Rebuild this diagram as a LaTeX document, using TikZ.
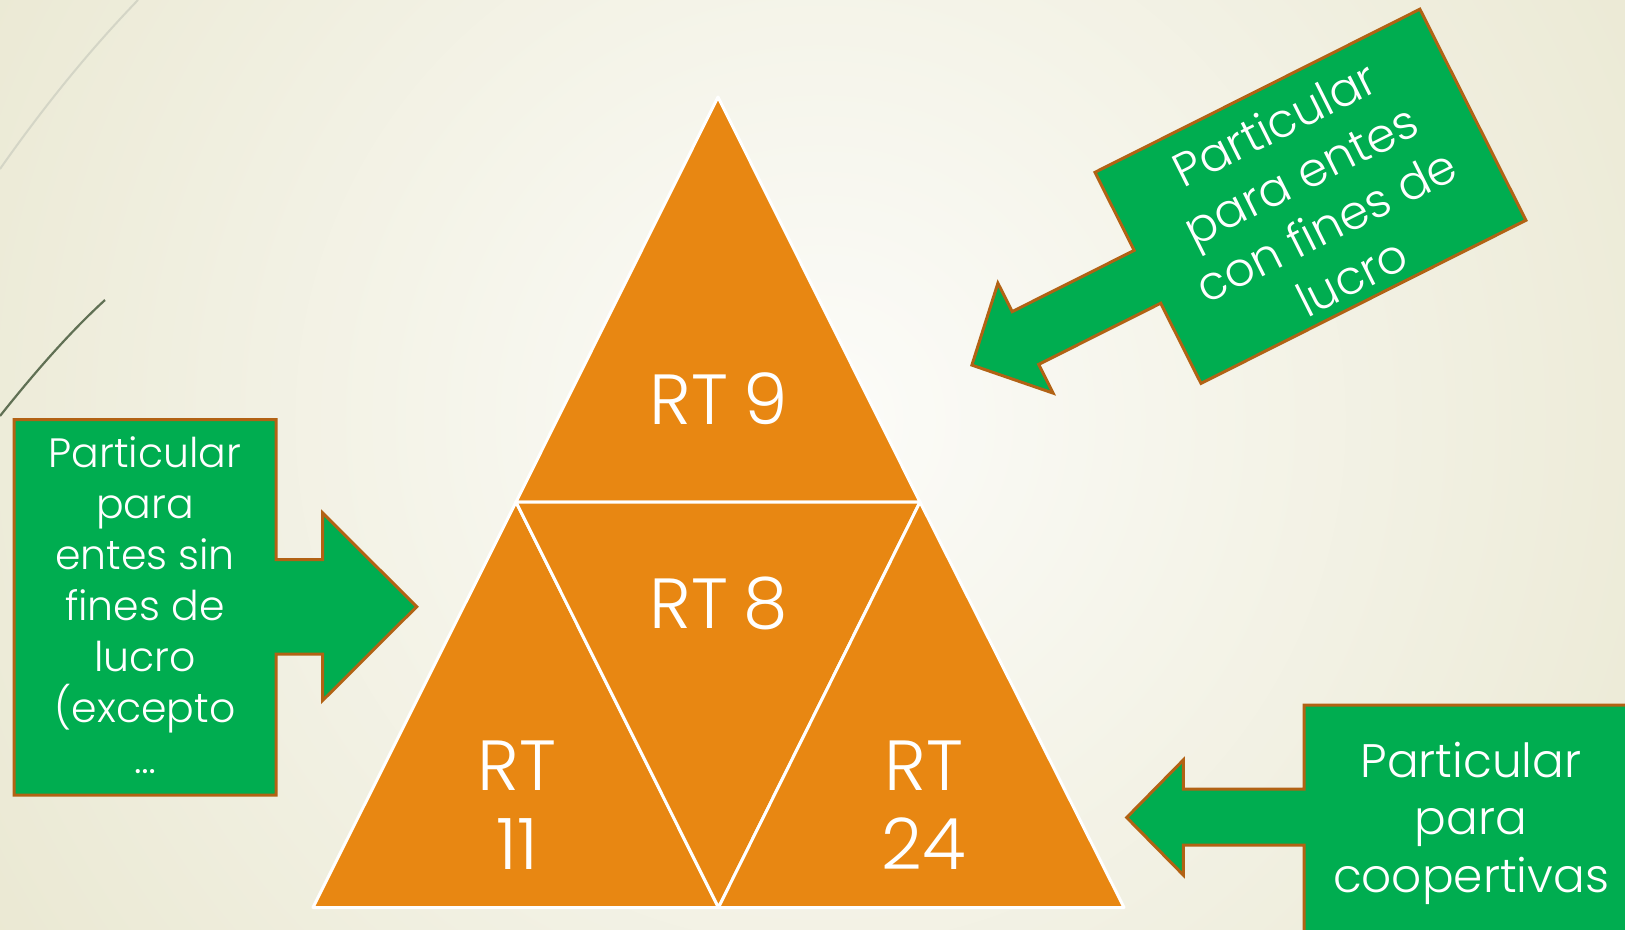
\documentclass[tikz,border=0pt]{standalone}
\usepackage{fontspec}
\setmainfont{Poppins Light}
\definecolor{cgreen}{RGB}{0,173,80}
\definecolor{cedge}{RGB}{178,98,20}
\definecolor{corange}{RGB}{232,135,18}
\definecolor{bgin}{RGB}{252,252,249}
\definecolor{bgout}{RGB}{233,231,208}
\definecolor{lineA}{RGB}{212,213,198}
\definecolor{lineB}{RGB}{96,112,84}
\begin{document}
\begin{tikzpicture}[x=1pt,y=-1pt,
  callout/.style={fill=cgreen,draw=cedge,line width=3pt,line join=miter},
  tri/.style={fill=corange,draw=white,line width=3pt,line join=round},
  rtlabel/.style={text=white,font=\fontsize{71}{79}\selectfont,align=center,inner sep=0pt},
  ctext/.style={text=white,align=center,inner sep=0pt}]
\useasboundingbox (0,0) rectangle (1625,929);
\begin{scope}
\clip (0,0) rectangle (1625,929);
\fill[bgout] (0,0) rectangle (1625,929);
\shade[inner color=bgin,outer color=bgout] (820,420) circle (1050);
% decorative lines
\draw[lineA,line width=2pt] (0,169) .. controls (40,112) and (85,55) .. (138,0);
\draw[lineB,line width=2.2pt] (0,416) .. controls (35,372) and (70,332) .. (105,300);
% pyramid
\coordinate (A) at (718,97);
\coordinate (ML) at (516,502);
\coordinate (MR) at (920,502);
\coordinate (BL) at (313,907.5);
\coordinate (BM) at (718.5,907.5);
\coordinate (BR) at (1124,907.5);
\draw[tri] (A) -- (ML) -- (MR) -- cycle;
\draw[tri] (ML) -- (BL) -- (BM) -- cycle;
\draw[tri] (ML) -- (MR) -- (BM) -- cycle;
\draw[tri] (MR) -- (BM) -- (BR) -- cycle;
\node[rtlabel] (rt9) at (719,399) {RT\hspace{-4pt} 9};
\node[rtlabel] (rt8) at (719,603) {RT\hspace{-4pt} 8};
\node[rtlabel] (rt11) at (517,805) {RT\\11};
\node[rtlabel] (rt24) at (924,805) {RT\\24};
% left callout
\draw[callout] (14,419.5) -- (276,419.5) -- (276,559.5) -- (322.7,559.5) -- (322.7,513) -- (416.7,606.7) -- (322.7,700.4) -- (322.7,654) -- (276,654) -- (276,795) -- (14,795) -- cycle;
\node[ctext,font=\fontsize{41}{51}\selectfont] (lefttext) at (145,605) {Particular\\para\\entes sin\\fines de\\lucro\\(excepto\\…};
% top-right callout
\draw[callout] (1095,172.3) -- (1419.9,9.2) -- (1525.9,220.3) -- (1201,383.4) -- (1160.7,303.2) -- (1038.7,364.4) -- (1053.1,393.1) -- (971.9,365.1) -- (997.9,283.2) -- (1012.2,311.6) -- (1134.2,250.4) -- cycle;
\node[ctext,font=\fontsize{47}{57}\selectfont,rotate=26.66] (trtext) at (1313,200) {Particular\\para entes\\con fines de\\lucro};
% bottom-right callout
\draw[callout] (1304,705) -- (1660,705) -- (1660,960) -- (1304,960) -- (1304,845) -- (1183.3,845) -- (1183.3,875) -- (1126.7,817.5) -- (1183.3,760) -- (1183.3,789) -- (1304,789) -- cycle;
\node[ctext,font=\fontsize{47}{57.5}\selectfont] (brtext) at (1471,823) {Particular\\para\\coopertivas};
\end{scope}
\end{tikzpicture}
\end{document}
